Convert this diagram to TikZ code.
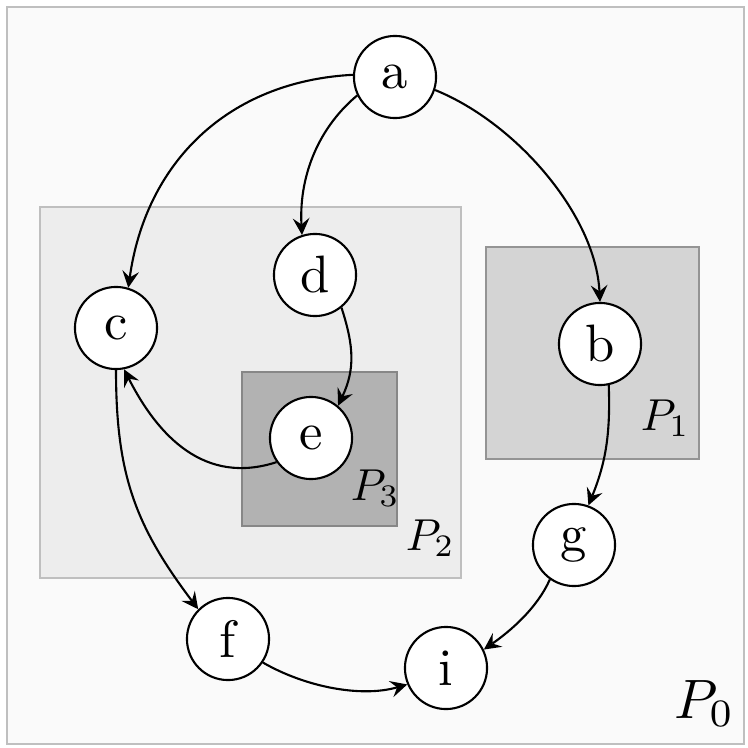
\documentclass[tikz,border=0pt]{standalone}
\usetikzlibrary{arrows}

\tikzset{
  >=stealth,
  vertex/.style={circle, draw, fill=white, minimum size=15.6pt, inner sep=0pt},
  partlabel/.style={anchor=base west, inner sep=0pt, scale=0.85},
}

\begin{document}
\begin{tikzpicture}[x=0.19pt, y=-0.19pt]
\useasboundingbox (0, 0) rectangle (748, 748);

% parts
\draw[draw=black!25, fill=black!2] (7, 7) rectangle (744, 744);
\draw[draw=black!25, fill=black!7] (40, 207) rectangle (461, 578);
\draw[draw=black!42, fill=black!17] (486, 247) rectangle (699, 459);
\draw[draw=black!47, fill=black!30] (242, 372) rectangle (397, 526);

\node[partlabel, scale=1.24] (p0) at (673, 718) {$P_0$};
\node[partlabel] (p1) at (640, 430) {$P_1$};
\node[partlabel] (p2) at (405, 550) {$P_2$};
\node[partlabel] (p3) at (350, 500) {$P_3$};

% vertices
\node[vertex] (a) at (395, 77) {a};
\node[vertex] (b) at (600, 344) {b};
\node[vertex] (c) at (116, 328) {c};
\node[vertex] (d) at (315, 275) {d};
\node[vertex] (e) at (311, 438) {e};
\node[vertex] (f) at (228, 639) {f};
\node[vertex] (g) at (574, 545) {g};
\node[vertex] (i) at (446, 668) {i};

% edges
\draw[->] (a.177) to[out=183, in=82, looseness=1.04] (c.73);
\draw[->] (a.206) to[out=220, in=93, looseness=0.93] (d.108);
\draw[->] (a.-18) to[out=-22, in=93, looseness=0.83] (b.90);
\draw[->] (d.-51) to[out=-72, in=65, looseness=1.05] (e.50);
\draw[->] (e.215) to[out=198, in=-63, looseness=1.08] (c.-79);
\draw[->] (c.-90) to[out=-90, in=127, looseness=1.06] (f.135);
\draw[->] (f.-34) to[out=-30, in=196, looseness=0.85] (i.203);
\draw[->] (b.-78) to[out=-88, in=68, looseness=1] (g.70);
\draw[->] (g.235) to[out=246, in=35, looseness=0.85] (i.26);
\end{tikzpicture}
\end{document}
